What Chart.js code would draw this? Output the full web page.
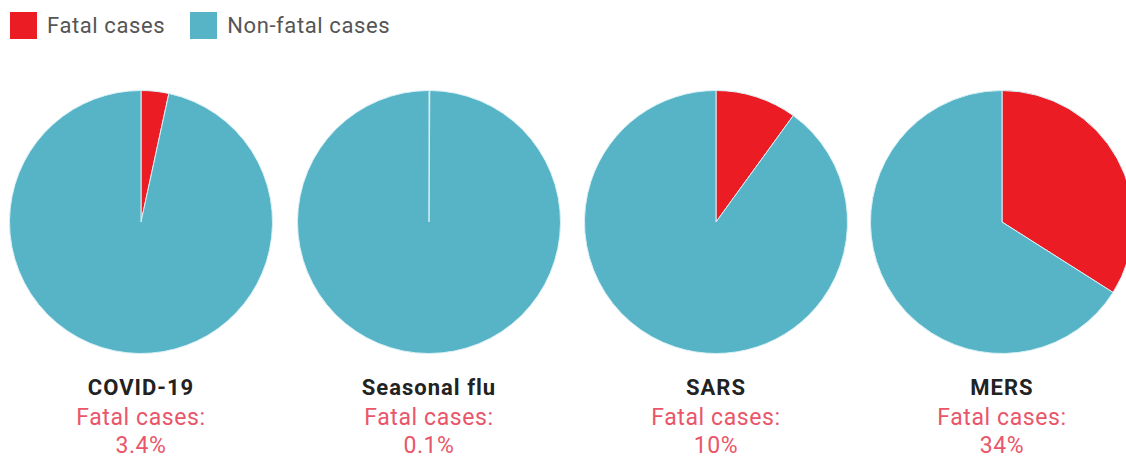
<!DOCTYPE html>
<html>
<head>
<meta charset="utf-8">
<script src="https://cdn.jsdelivr.net/npm/chart.js@4/dist/chart.umd.min.js"></script>
<style>
  body { margin: 0; background: #fff; font-family: Roboto, "Noto Sans", sans-serif; }
  #wrap { position: relative; width: 1126px; height: 468px; overflow: hidden; }
  .legend { position: absolute; top: 12px; left: 10px; display: flex; align-items: center; font-size: 22px; color: #555; letter-spacing: 0.6px; }
  .legend .sw { width: 27px; height: 27px; margin-right: 10px; }
  .legend .item { display: flex; align-items: center; margin-right: 25px; }
  .pie { position: absolute; top: 90px; width: 264px; height: 264px; }
  .lbl { position: absolute; top: 372px; width: 280px; text-align: center; }
  .lbl .name { font-weight: 700; font-size: 22px; color: #222; line-height: 32px; letter-spacing: 1px; }
  .lbl .fatal { font-weight: 400; font-size: 23px; color: #e9566a; line-height: 28px; letter-spacing: 0.6px; }
</style>
</head>
<body>
<div id="wrap">
  <div class="legend" id="legend"></div>
</div>
<script>
const diseases = ['COVID-19', 'Seasonal flu', 'SARS', 'MERS'];
const fatalPct = [3.4, 0.1, 10, 34];
const fatalLabels = ['3.4%', '0.1%', '10%', '34%'];
const seriesNames = ['Fatal cases', 'Non-fatal cases'];
const colors = ['#ec1c24', '#57b3c6'];
const centersX = [141, 429, 716, 1002];

const wrap = document.getElementById('wrap');

// legend
document.getElementById('legend').innerHTML = seriesNames.map((n, i) => `
  <div class="item"><div class="sw" style="background:${colors[i]}"></div>${n}</div>
`).join('');

diseases.forEach((name, i) => {
    const box = document.createElement('div');
    box.className = 'pie';
    box.style.left = (centersX[i] - 132) + 'px';
    box.innerHTML = '<canvas></canvas>';
    wrap.appendChild(box);

    new Chart(box.querySelector('canvas'), {
        type: 'pie',
        data: {
            labels: seriesNames,
            datasets: [{
                data: [fatalPct[i], +(100 - fatalPct[i]).toFixed(1)],
                backgroundColor: colors,
                borderColor: '#d8f0f5',
                borderWidth: 1
            }]
        },
        options: {
            responsive: true,
            maintainAspectRatio: false,
            animation: false,
            layout: { padding: 0 },
            plugins: { legend: { display: false }, tooltip: { enabled: false } }
        }
    });

    const lbl = document.createElement('div');
    lbl.className = 'lbl';
    lbl.style.left = (centersX[i] - 140) + 'px';
    lbl.innerHTML = `<div class="name">${name}</div>
        <div class="fatal">Fatal cases:</div>
        <div class="fatal">${fatalLabels[i]}</div>`;
    wrap.appendChild(lbl);
});
</script>
</body>
</html>
